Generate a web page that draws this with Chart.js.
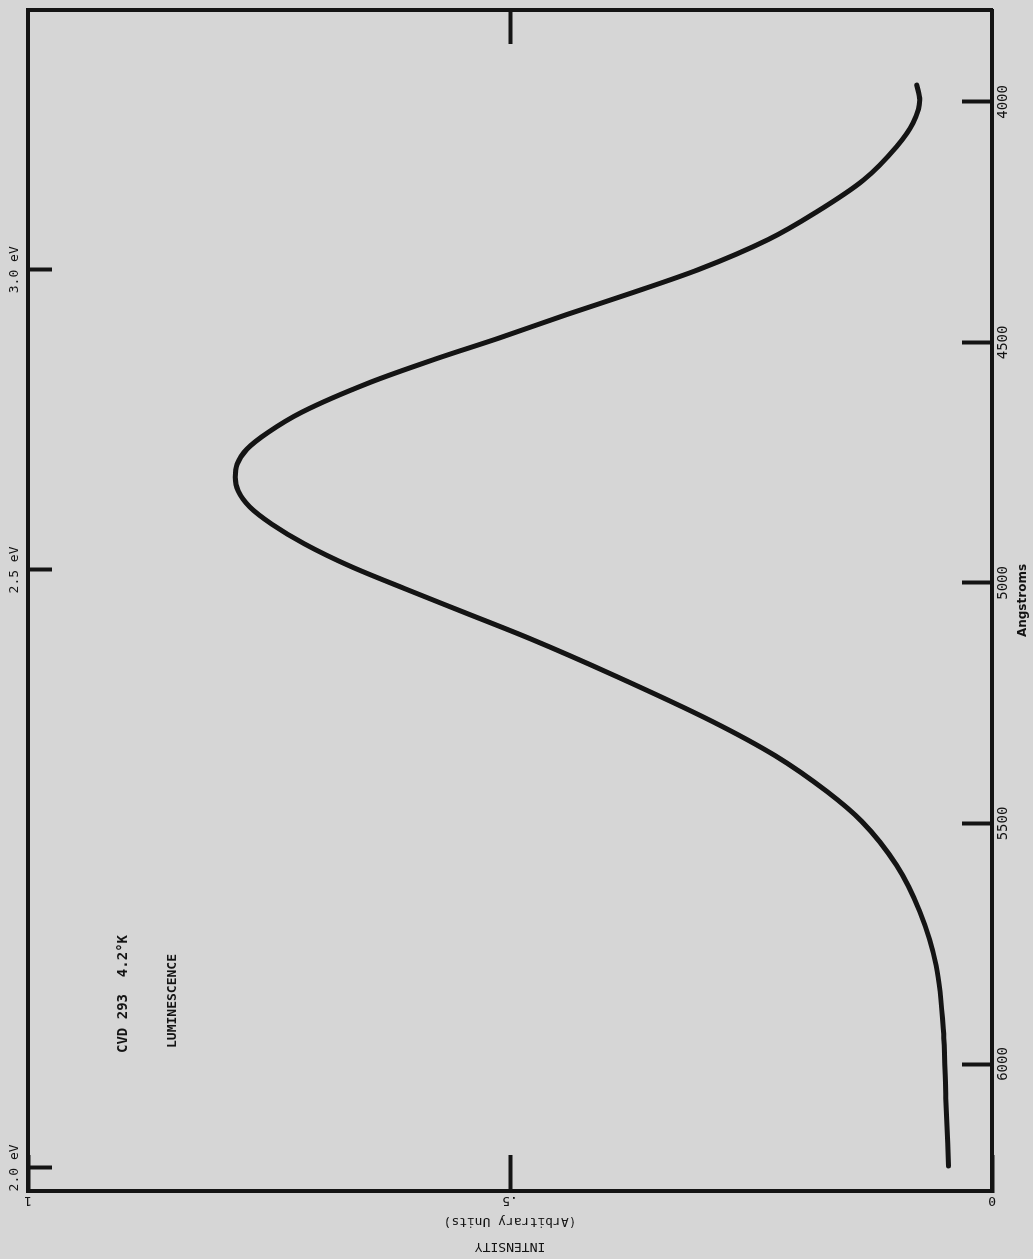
<!DOCTYPE html>
<html>
<head>
<meta charset="utf-8">
<title>CVD 293 Luminescence</title>
<script src="https://cdn.jsdelivr.net/npm/chart.js"></script>
<style>
    html, body { margin: 0; padding: 0; }
    body { width: 1033px; height: 1259px; overflow: hidden; position: relative; background: #d6d6d6; }
    /* the plot is drawn upright and then turned a quarter turn to the left, like the scan */
    #sheet { position: absolute; left: 0; top: 0; width: 1259px; height: 1033px;
             transform-origin: 0 0; transform: translate(0, 1259px) rotate(-90deg); }
</style>
</head>
<body>
<div id="sheet"><canvas id="lumChart" width="1259" height="1033"></canvas></div>
<script>
"use strict";

// Curve (wavelength in Angstroms, intensity in arbitrary units)
var wavelength = [3965, 3996, 4044, 4093, 4162, 4230, 4286, 4349, 4396, 4442, 4490, 4535,
                  4583, 4645, 4687, 4722, 4753, 4780, 4809, 4842, 4878, 4919, 4965, 5012,
                  5060, 5116, 5193, 5288, 5359, 5434, 5496, 5587, 5683, 5795, 5946, 6071, 6212];
var intensity = [0.078, 0.075, 0.082, 0.099, 0.133, 0.183, 0.232, 0.305, 0.372, 0.441, 0.510, 0.578,
                 0.645, 0.716, 0.751, 0.773, 0.783, 0.785, 0.782, 0.770, 0.747, 0.713, 0.666, 0.609,
                 0.549, 0.479, 0.391, 0.290, 0.225, 0.171, 0.135, 0.099, 0.075, 0.058, 0.050, 0.048, 0.045];

// Axis ranges and ticks
var wavelengthRange = [3809, 6264];
var wavelengthTicks = [4000, 4500, 5000, 5500, 6000];
var wavelengthTickLabels = ['4000', '4500', '5000', '5500', '6000'];
var evTickPos = [6216, 4973, 4349];          // where the eV marks sit on the Angstrom scale
var evTickLabels = ['2.0 eV', '2.5 eV', '3.0 eV'];
var intensityTicks = [0, 0.5, 1];
var intensityTickLabels = ['0', '.5', '1'];
var intensityMarks = [0.5];

var sampleNote = 'CVD 293  4.2\u00b0K';
var methodNote = 'LUMINESCENCE';

var ink = '#141414';
var mono = "'DejaVu Sans Mono', 'Liberation Mono', monospace";

// Build the point list the line dataset needs
function curvePoints() {
    var pts = [];
    for (var i = 0; i < wavelength.length; i++) {
        pts.push({ x: wavelength[i], y: intensity[i] });
    }
    return pts;
}

// Fix an axis box to a set size and drop the extra room Chart.js keeps for edge labels
function fixBox(size) {
    return function (s) {
        if (s.isHorizontal()) {
            s.height = size;
        } else {
            s.width = size;
        }
        s.paddingLeft = 0;
        s.paddingRight = 0;
        s.paddingTop = 0;
        s.paddingBottom = 0;
    };
}

// Labels that were typed onto the sheet
var notesPlugin = {
    id: 'notes',
    afterDraw: function (chart) {
        var ctx = chart.ctx;
        ctx.save();
        ctx.fillStyle = ink;
        ctx.textAlign = 'center';
        ctx.textBaseline = 'middle';
        ctx.font = "bold 14px " + mono;
        ctx.fillText(sampleNote, 265, 123);
        ctx.font = "bold 13px " + mono;
        ctx.fillText(methodNote, 258, 173);
        ctx.restore();
    }
};

function displayChart() {
    var ctx = document.getElementById('lumChart').getContext('2d');
    var chart = new Chart(ctx, {
        type: 'line',
        data: {
            datasets: [{
                label: 'Luminescence',
                data: curvePoints(),
                xAxisID: 'x',
                yAxisID: 'y',
                borderColor: ink,
                borderWidth: 5,
                borderCapStyle: 'round',
                pointRadius: 0,
                cubicInterpolationMode: 'monotone',
                fill: false
            }]
        },
        options: {
            responsive: false,
            animation: false,
            layout: { padding: 0 },
            plugins: { legend: { display: false }, tooltip: { enabled: false } },
            scales: {
                x: {
                    type: 'linear',
                    position: 'bottom',
                    min: wavelengthRange[0],
                    max: wavelengthRange[1],
                    reverse: true,
                    afterBuildTicks: function (s) { s.ticks = wavelengthTicks.map(function (v) { return { value: v }; }); },
                    afterFit: fixBox(41),
                    grid: { drawOnChartArea: false, drawTicks: true, tickLength: -30, tickWidth: 4, tickColor: ink },
                    border: { display: true, color: ink, width: 4 },
                    ticks: {
                        autoSkip: false, minRotation: 0, maxRotation: 0, padding: 33, color: ink,
                        font: { family: mono, size: 14 },
                        callback: function (value, index) { return wavelengthTickLabels[index]; }
                    },
                    title: {
                        display: true, text: 'Angstroms', color: ink,
                        padding: { top: 0, bottom: 3 },
                        font: { family: "'DejaVu Sans', sans-serif", size: 12, weight: 'bold' }
                    }
                },
                ev: {
                    type: 'linear',
                    position: 'top',
                    min: wavelengthRange[0],
                    max: wavelengthRange[1],
                    reverse: true,
                    afterBuildTicks: function (s) { s.ticks = evTickPos.map(function (v) { return { value: v }; }); },
                    afterFit: fixBox(28),
                    grid: { drawOnChartArea: false, drawTicks: true, tickLength: -24, tickWidth: 4, tickColor: ink },
                    border: { display: true, color: ink, width: 4 },
                    ticks: {
                        autoSkip: false, minRotation: 0, maxRotation: 0, padding: 30, color: ink,
                        font: { family: mono, size: 13 },
                        callback: function (value, index) { return evTickLabels[index]; }
                    }
                },
                y: {
                    type: 'linear',
                    position: 'left',
                    min: 0,
                    max: 1,
                    afterBuildTicks: function (s) { s.ticks = intensityTicks.map(function (v) { return { value: v }; }); },
                    afterFit: fixBox(68),
                    grid: { drawOnChartArea: false, drawTicks: true, tickLength: -36, tickWidth: 4, tickColor: ink },
                    border: { display: true, color: ink, width: 4 },
                    ticks: {
                        autoSkip: false, minRotation: 90, maxRotation: 90, crossAlign: 'center', padding: 38, color: ink,
                        font: { family: mono, size: 13 },
                        callback: function (value, index) { return intensityTickLabels[index]; }
                    },
                    title: {
                        display: true, text: ['INTENSITY', '(Arbitrary Units)'], color: ink,
                        padding: { top: 0, bottom: 0 },
                        font: { family: mono, size: 13, lineHeight: 1.92 }
                    }
                },
                yRight: {
                    type: 'linear',
                    position: 'right',
                    min: 0,
                    max: 1,
                    afterBuildTicks: function (s) { s.ticks = intensityMarks.map(function (v) { return { value: v }; }); },
                    afterFit: fixBox(10),
                    grid: { drawOnChartArea: false, drawTicks: true, tickLength: -34, tickWidth: 4, tickColor: ink },
                    border: { display: true, color: ink, width: 4 },
                    ticks: { display: false }
                }
            }
        },
        plugins: [notesPlugin]
    });
    return chart;
}

displayChart();
</script>
</body>
</html>
